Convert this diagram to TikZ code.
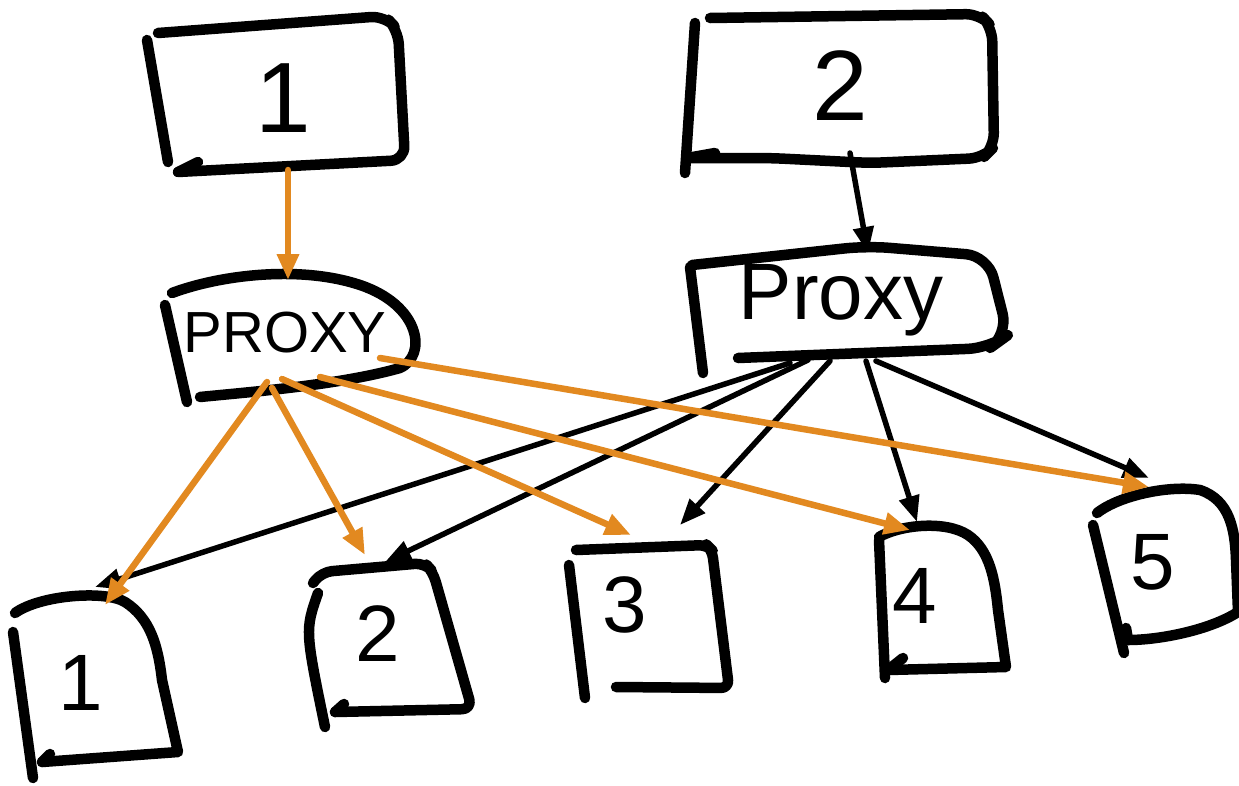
\documentclass[tikz,border=0pt]{standalone}
\usepackage{fontspec}
\setmainfont{Liberation Sans}
\usetikzlibrary{arrows.meta,calc}
\definecolor{sketchorange}{RGB}{226,137,32}
\tikzset{
  sk/.style={line width=10.5pt, line cap=round, line join=round, black},
  box/.style={inner sep=0pt, outer sep=0pt},
  bigtxt/.style={font=\fontsize{100}{100}\selectfont},
  midtxt/.style={font=\fontsize{80}{80}\selectfont},
  orarrow/.style={line width=6.5pt, sketchorange, line cap=round, -{Triangle[length=26pt,width=21pt]}},
  blarrow/.style={line width=5.5pt, black, line cap=round, -{Triangle[length=26pt,width=20pt]}},
}
\begin{document}
\begin{tikzpicture}[x=1pt,y=-1pt]
\useasboundingbox (0,0) rectangle (1239,785);
\fill[white] (0,0) rectangle (1239,785);

% nodes (text)
\node[box,bigtxt] (t1) at (283,98) {1};
\node[box,bigtxt] (t2) at (840,86) {2};
\node[box,font=\fontsize{58}{58}\selectfont] (p1) at (285,333) {PROXY};
\node[box,font=\fontsize{80}{80}\selectfont] (p2) at (841,300) {Proxy};
\node[box,midtxt] (b1) at (81,683) {1};
\node[box,midtxt] (b2) at (378,634) {2};
\node[box,midtxt] (b3) at (625,605) {3};
\node[box,midtxt] (b4) at (915,596) {4};
\node[box,midtxt] (b5) at (1153,562) {5};

% sketched outlines
% top 1
\draw[sk, rounded corners=14pt] (158,33) -- (385,16) -- (398,30) -- (405,160) -- (178,172);
\draw[sk] (178,172) -- (198,162);
\draw[sk] (147,40) -- (168,162);
% top 2
\draw[sk, rounded corners=14pt] (710,18) -- (980,14) -- (992,27) -- (994,147) -- (983,158) -- (870,163) -- (770,158) -- (687,158);
\draw[sk] (687,158) -- (715,153);
\draw[sk] (695,23) -- (685,173);
% proxy 1
\draw[sk] (172,293) .. controls (220,275) and (300,265) .. (360,285) .. controls (420,305) and (428,355) .. (400,368) .. controls (340,385) and (250,392) .. (200,397);
\draw[sk] (165,305) -- (187,402);
% proxy 2
\draw[sk, rounded corners=22pt] (692,265) -- (867,246) -- (988,256) -- (1008,335) -- (990,348) -- (738,358);
\draw[sk] (690,267) -- (703,373);
% bottom 1
\draw[sk] (15,613) .. controls (40,595) and (105,590) .. (125,602) .. controls (150,618) and (158,645) .. (162,680) -- (178,752) -- (42,762);
\draw[sk] (42,762) -- (50,754);
\draw[sk] (13,632) -- (33,778);
% bottom 2
\draw[sk, rounded corners=10pt] (313,583) -- (322,572) -- (425,563) -- (433,572) -- (472,709) -- (335,712);
\draw[sk] (335,712) -- (344,704);
\draw[sk] (318,593) .. controls (305,630) .. (325,727);
% bottom 3
\draw[sk, rounded corners=8pt] (576,550) -- (707,545) -- (712,550) -- (729,688) -- (616,687);
\draw[sk] (569,565) -- (585,698);
% bottom 4
\draw[sk] (879,537) .. controls (900,525) and (945,520) .. (968,535) .. controls (990,550) and (995,580) .. (998,610) -- (1006,667) -- (888,670);
\draw[sk] (888,670) -- (903,658);
\draw[sk] (879,540) -- (885,678);
% bottom 5
\draw[sk] (1097,513) .. controls (1120,495) and (1170,485) .. (1200,490) .. controls (1230,500) and (1235,530) .. (1236,560) -- (1238,612) .. controls (1210,630) and (1160,640) .. (1128,640);
\draw[sk] (1128,640) -- (1126,628);
\draw[sk] (1093,525) -- (1124,653);

% black connectors
\draw[blarrow] ($(t2)+(10,67)$) -- ($(p2)+(27,-47)$);
\draw[blarrow] ($(p2)+(-51,63)$) -- ($(b1)+(14,-96)$);
\draw[blarrow] ($(p2)+(-33,60)$) -- ($(b2)+(7,-72)$);
\draw[blarrow] ($(p2)+(-11,61)$) -- ($(b3)+(55,-80)$);
\draw[blarrow] ($(p2)+(25,61)$) -- ($(b4)+(2,-74)$);
\draw[blarrow] ($(p2)+(35,61)$) -- ($(b5)+(-4,-84)$);

% orange connectors
\draw[orarrow] ($(t1)+(5,72)$) -- ($(p1)+(3,-53)$);
\draw[orarrow] ($(p1)+(-18,49)$) -- ($(b1)+(24,-78)$);
\draw[orarrow] ($(p1)+(-13,55)$) -- ($(b2)+(-13,-79)$);
\draw[orarrow] ($(p1)+(-3,46)$) -- ($(b3)+(6,-70)$);
\draw[orarrow] ($(p1)+(35,44)$) -- ($(b4)+(-5,-66)$);
\draw[orarrow] ($(p1)+(95,25)$) -- ($(b5)+(-4,-75)$);
\end{tikzpicture}
\end{document}
